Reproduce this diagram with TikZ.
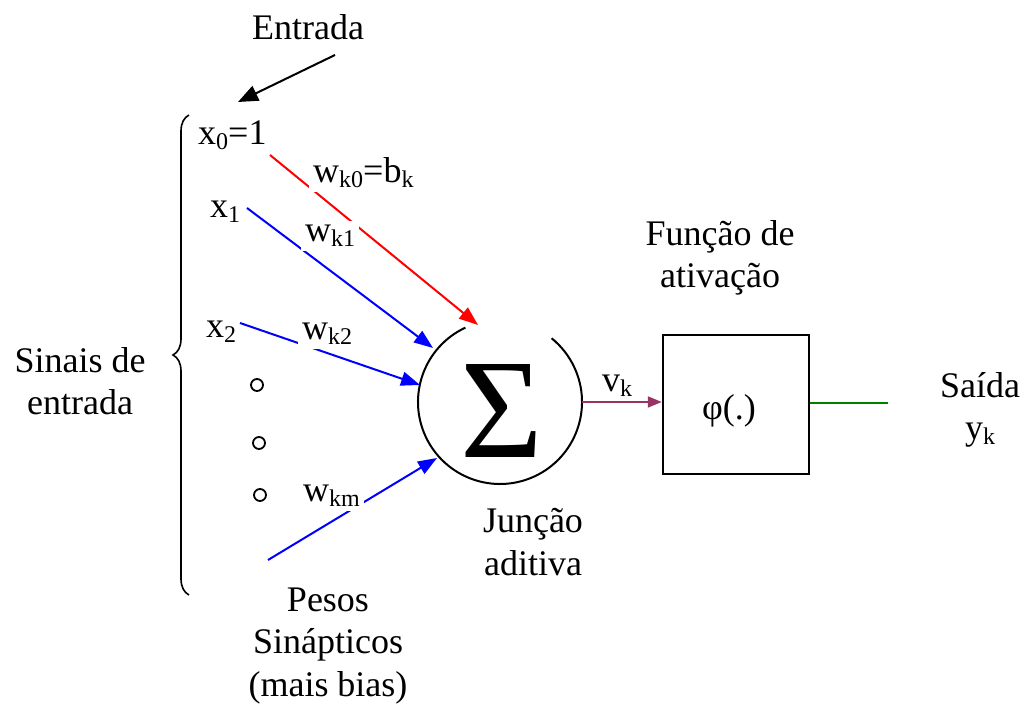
\documentclass[tikz,border=0pt]{standalone}
\usepackage{fontspec}
\setmainfont{Liberation Serif}
\usetikzlibrary{arrows.meta,decorations.pathreplacing}
\newcommand\sbs[1]{\raisebox{-5pt}{\fontsize{24}{24}\selectfont #1}}
\definecolor{vkcol}{HTML}{993366}
\definecolor{outgreen}{HTML}{008000}
\begin{document}
\begin{tikzpicture}[x=1pt,y=1pt,
  txt/.style={font=\fontsize{36}{42.5}\selectfont, inner sep=0pt, align=center},
  wlab/.style={txt, fill=white, inner sep=4pt},
  conn/.style={line width=2pt},
  head/.style={-{Triangle[length=19pt,width=14pt]}},
]
\useasboundingbox (0,0) rectangle (1027,708);

% summing junction
\node[circle, minimum size=164pt, inner sep=0pt] (sum) at (500,306) {};
\draw[line width=2pt] ([shift={(115:82)}]sum.center) arc[start angle=115, end angle=411, radius=82];
\node[txt, font=\fontsize{142}{142}\selectfont] (sigma) at (502,297) {Σ};

% activation box
\node[draw, line width=2.5pt, minimum width=146pt, minimum height=139pt, inner sep=0pt] (phi) at (736,303.5) {};
\node[txt, anchor=base west] (phitxt) at (702,288) {φ(.)};

% coordinates of inputs
\coordinate (s0) at (270,553);
\coordinate (t0) at (478,383);
\coordinate (s1) at (247,500);
\coordinate (t1) at (433,360);
\coordinate (s2) at (240,385);
\coordinate (t2) at (420,323);
\coordinate (sm) at (268,148);
\coordinate (tm) at (437,250);
\coordinate (yout) at (888,305);

% connectors
\draw[conn, red, head] (s0) -- (t0);
\draw[conn, blue, head] (s1) -- (t1);
\draw[conn, blue, head] (s2) -- (t2);
\draw[conn, blue, head] (sm) -- (tm);
\draw[conn, vkcol, -{Triangle[length=14pt,width=11pt]}] (sum.east) -- (sum.east -| phi.west);
\draw[conn, outgreen] (phi.east |- yout) -- (yout);

% Entrada arrow
\coordinate (ea) at (335,653);
\coordinate (eb) at (238,606);
\draw[conn, black, -{Triangle[length=20pt,width=16pt]}] (ea) -- (eb);
\node[txt, anchor=base west] (entrada) at (252,668) {Entrada};

% weight labels
\node[wlab, anchor=base west] (w0) at (309,525) {w\sbs{k0}=b\sbs{k}};
\node[wlab, anchor=base west] (w1) at (301,466) {w\sbs{k1}};
\node[wlab, anchor=base west] (w2) at (298,368) {w\sbs{k2}};
\node[wlab, anchor=base west] (wm) at (299,206) {w\sbs{km}};

% input labels
\node[txt, anchor=base west] (x0) at (198,563) {x\sbs{0}=1};
\node[txt, anchor=base west] (x1) at (210,490) {x\sbs{1}};
\node[txt, anchor=base west] (x2) at (206,370) {x\sbs{2}};

% dots
\foreach \n/\p in {d1/{(257,323)}, d2/{(259,265)}, d3/{(260,213)}}
  \node[circle, draw, line width=1.8pt, minimum size=12pt, inner sep=0pt] (\n) at \p {};

% brace
\coordinate (ba) at (189,113);
\coordinate (bb) at (189,593);
\draw[line width=1.6pt, decorate, decoration={brace, amplitude=16pt}] (ba) -- (bb);

% text labels
\node[txt] (sinais) at (80,327) {Sinais de\\entrada};
\node[txt, anchor=base west] (vk) at (602,316) {v\sbs{k}};
\node[txt] (funcao) at (720,450) {Função de\\ativação};
\node[txt] (saida) at (980,298) {Saída\\y\sbs{k}};
\node[txt] (juncao) at (533,166) {Junção\\aditiva};
\node[txt] (pesos) at (328,62) {Pesos\\Sinápticos\\(mais bias)};
\end{tikzpicture}
\end{document}
